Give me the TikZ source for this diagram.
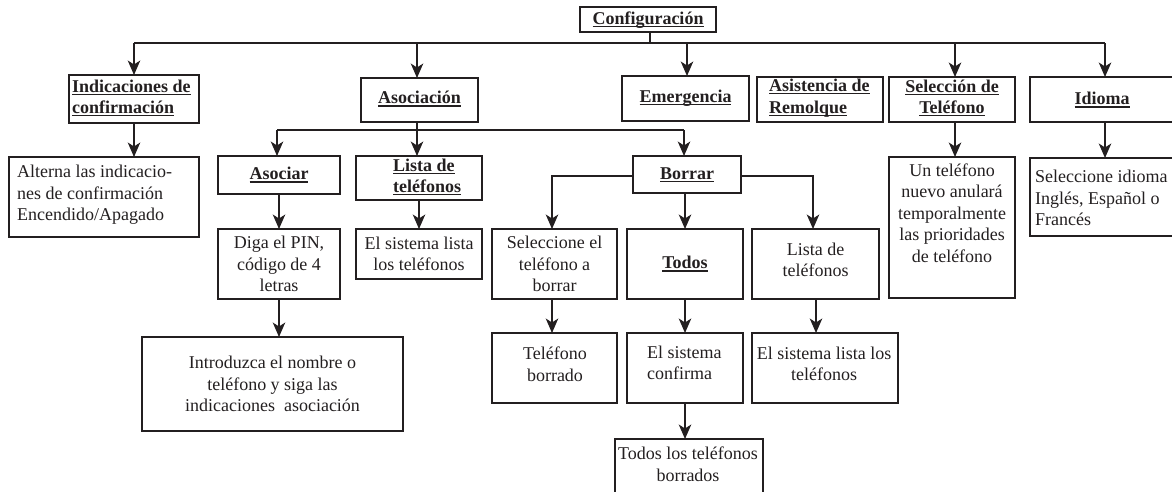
\documentclass[tikz,border=0pt]{standalone}
\usepackage{fontspec}
\setmainfont{Liberation Serif}
\usetikzlibrary{arrows.meta}
\definecolor{ink}{HTML}{231F20}
\newcommand\hd[1]{\setbox0\hbox{\bfseries #1}\rlap{\rule[-2.6pt]{\wd0}{1.1pt}}\box0}
\newcommand\mkbox[5]{\node[bx, minimum width={(#4)-(#2)}, minimum height={(#5)-(#3)}] (#1) at ({((#2)+(#4))/2},{((#3)+(#5))/2}) {};}
\tikzset{
  bx/.style={draw=ink, line width=1.8pt, inner sep=0pt, outer sep=0pt},
  tx/.style={text=ink, inner sep=0pt, font=\fontsize{18}{21.5}\selectfont},
  ln/.style={draw=ink, line width=1.4pt},
  ar/.style={ln, -{Stealth[length=14.5pt,width=12.5pt,inset=4pt]}},
}
\begin{document}
\begin{tikzpicture}[x=1pt,y=-1pt]
\useasboundingbox (0,0) rectangle (1172,491);
\clip (0,0) rectangle (1172,491);
% boxes
\mkbox{conf}{580}{7}{716}{32}
\mkbox{ind}{69}{75}{199}{123}
\mkbox{aso}{361}{78}{478}{122}
\mkbox{eme}{622}{76}{749}{121}
\mkbox{asi}{757}{77}{883}{122}
\mkbox{selt}{889}{77}{1015}{122}
\mkbox{idi}{1030}{77}{1180}{122}
\mkbox{indd}{9}{157}{199}{237}
\mkbox{asr}{218}{156}{340}{194}
\mkbox{lis}{356}{156}{482}{200}
\mkbox{bor}{633}{156}{741}{193}
\mkbox{pin}{218}{229}{340}{299}
\mkbox{esl}{356}{229}{482}{279}
\mkbox{intr}{142}{337}{403}{431}
\mkbox{sel}{492}{229}{617}{299}
\mkbox{tod}{627}{229}{743}{299}
\mkbox{lst}{752}{229}{879}{299}
\mkbox{tb}{492}{333}{617}{403}
\mkbox{conf2}{627}{333}{743}{403}
\mkbox{esl2}{752}{333}{898}{403}
\mkbox{todb}{615}{439}{763}{500}
\mkbox{un}{889}{157}{1015}{298}
\mkbox{idd}{1030}{158}{1180}{236}
% texts
\node[tx] (tconf) at (648,20) {\hd{Configuración}};
\node[tx, align=left, anchor=west] (tind) at (72,98) {\hd{Indicaciones de}\\\hd{confirmación}};
\node[tx] (taso) at (419.5,99) {\hd{Asociación}};
\node[tx] (teme) at (685.5,98) {\hd{Emergencia}};
\node[tx, align=left, anchor=west] (tasi) at (769,98) {\hd{Asistencia de}\\\hd{Remolque}};
\node[tx, align=center] (tselt) at (952,98) {\hd{Selección de}\\\hd{Teléfono}};
\node[tx] (tidi) at (1102,100) {\hd{Idioma}};
\node[tx, align=left, anchor=west] (tindd) at (17,195) {Alterna las indicacio-\\nes de confirmación\\Encendido/Apagado};
\node[tx] (tasr) at (279,175) {\hd{Asociar}};
\node[tx, align=left, anchor=west] (tlis) at (393,177) {\hd{Lista de}\\\hd{teléfonos}};
\node[tx] (tbor) at (687,175) {\hd{Borrar}};
\node[tx, align=center] (tpin) at (279,264) {Diga el PIN,\\código de 4\\letras};
\node[tx, align=center] (tesl) at (419,254) {El sistema lista\\los teléfonos};
\node[tx, align=center] (tintr) at (272.5,384) {Introduzca el nombre o\\teléfono y siga las\\indicaciones\ \ asociación};
\node[tx, align=center] (tsel) at (554.5,264) {Seleccione el\\teléfono a\\borrar};
\node[tx] (ttod) at (685,264) {\hd{Todos}};
\node[tx, align=center] (tlst) at (815.5,260) {Lista de\\teléfonos};
\node[tx, align=center] (ttb) at (555,364) {Teléfono\\borrado};
\node[tx, align=left, anchor=west] (tconf2) at (647,363) {El sistema\\confirma};
\node[tx, align=center] (tesl2) at (824,364) {El sistema lista los\\teléfonos};
\node[tx, align=center] (ttodb) at (688,464) {Todos los teléfonos\\borrados};
\node[tx, align=center] (tun) at (952,213) {Un teléfono\\nuevo anulará\\temporalmente\\las prioridades\\de teléfono};
\node[tx, align=left, anchor=west] (tidd) at (1035,198) {Seleccione idioma\\Inglés, Español o\\Francés};
% top bus
\coordinate (b0) at (650,43);
\draw[ln] ([xshift=2]conf.south) -- ([xshift=2]conf.south |- b0);
\draw[ln] (ind.north |- b0) -- (idi.north |- b0);
\draw[ar] (ind.north |- b0) -- (ind.north);
\draw[ar] ([xshift=-2.5]aso.north |- b0) -- ([xshift=-2.5]aso.north);
\draw[ar] ([xshift=1.5]eme.north |- b0) -- ([xshift=1.5]eme.north);
\draw[ar] ([xshift=3]selt.north |- b0) -- ([xshift=3]selt.north);
\draw[ar] (idi.north |- b0) -- (idi.north);
% asociacion bus
\coordinate (b1) at (417,130);
\draw[ln] ([xshift=-2.5]aso.south) -- ([xshift=-2.5]aso.south |- b1);
\draw[ln] ([xshift=-2]asr.north |- b1) -- ([xshift=-3]bor.north |- b1);
\draw[ar] ([xshift=-2]asr.north |- b1) -- ([xshift=-2]asr.north);
\draw[ar] ([xshift=-2]lis.north |- b1) -- ([xshift=-2]lis.north);
\draw[ar] ([xshift=-3]bor.north |- b1) -- ([xshift=-3]bor.north);
% borrar
\draw[ar] ([yshift=-1.5]bor.west) -| ([xshift=-2.5]sel.north);
\draw[ar] ([yshift=-1.5]bor.east) -| ([xshift=-2.5]lst.north);
\draw[ar] (tod.north |- bor.south) -- (tod.north);
% vertical arrows
\draw[ar] (ind.south) -- (ind.south |- indd.north);
\draw[ar] (asr.south) -- (pin.north);
\draw[ar] (pin.south) -- (pin.south |- intr.north);
\draw[ar] (lis.south) -- (esl.north);
\draw[ar] ([xshift=-2.5]sel.south) -- ([xshift=-2.5]tb.north);
\draw[ar] (tod.south) -- (conf2.north);
\draw[ar] (conf2.south) -- (conf2.south |- todb.north);
\draw[ar] ([xshift=0.5]lst.south) -- ([xshift=0.5]lst.south |- esl2.north);
\draw[ar] ([xshift=3]selt.south) -- ([xshift=3]un.north);
\draw[ar] (idi.south) -- (idd.north);
\end{tikzpicture}
\end{document}
